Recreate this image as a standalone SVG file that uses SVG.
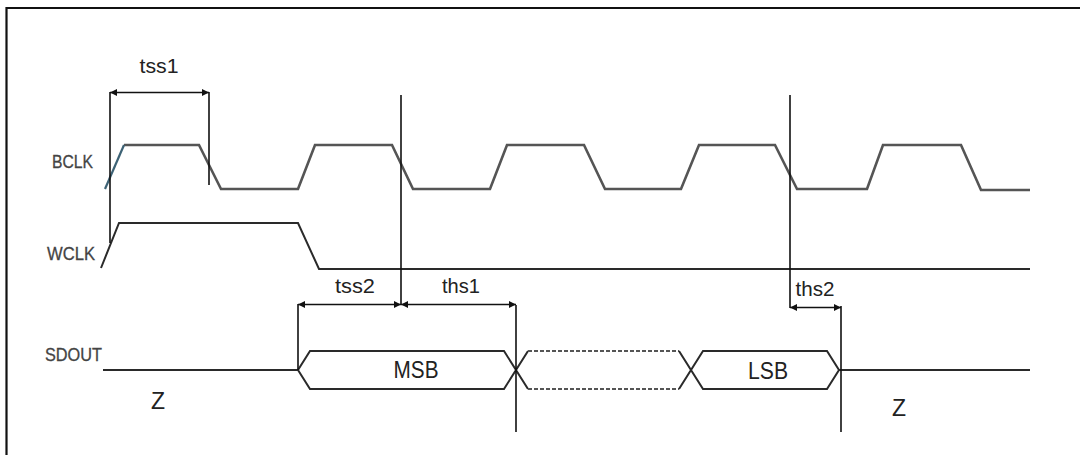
<svg xmlns="http://www.w3.org/2000/svg" width="1080" height="455" viewBox="0 0 1080 455">
<defs>
<style>
.wave{fill:none;stroke:#555;stroke-width:2.6;stroke-linejoin:miter}
.wdark{fill:none;stroke:#2a2a2a;stroke-width:2}
.ref{fill:none;stroke:#111;stroke-width:1.6}
.dim{fill:none;stroke:#111;stroke-width:1.6;marker-start:url(#ah);marker-end:url(#ah)}
.dash{fill:none;stroke:#555;stroke-width:2;stroke-dasharray:4 2}
.sig{font-family:"Liberation Sans",Arial,sans-serif;font-size:18px;fill:#444;stroke:#444;stroke-width:0.3}
.lbl{font-family:"Liberation Sans",Arial,sans-serif;font-size:21px;fill:#222;text-anchor:middle}
.big{font-family:"Liberation Sans",Arial,sans-serif;font-size:23px;fill:#222;text-anchor:middle}
</style>
<marker id="ah" viewBox="0 0 8 8" refX="8" refY="4" markerWidth="7" markerHeight="7" markerUnits="userSpaceOnUse" orient="auto-start-reverse">
<path d="M0,0 L8,4 L0,8 z" fill="#111"/>
</marker>
</defs>
<rect width="1080" height="455" fill="#fff"/>
<g id="frame"><path d="M6.5,460 V8 H1085" fill="none" stroke="#111" stroke-width="2.2"/></g>

<g id="bclk">
<text class="sig" x="52" y="168" textLength="41" lengthAdjust="spacingAndGlyphs">BCLK</text>
<path class="wave" d="M124,145 H199 L221,189 H298 L315,145 H392 L413,189 H490 L507,145 H584 L605,189 H681 L699,145 H775 L797,189 H867 L883,145 H961 L981,190 H1030"/>
<path d="M105,189 L124,145" fill="none" stroke="#3d6275" stroke-width="2.2"/>
</g>

<g id="wclk">
<text class="sig" x="47" y="260" textLength="48" lengthAdjust="spacingAndGlyphs">WCLK</text>
<path class="wdark" d="M101,268 L119,223 H298 L319,269 H1030"/>
</g>

<g id="sdout">
<text class="sig" x="45" y="361" textLength="57" lengthAdjust="spacingAndGlyphs">SDOUT</text>
<path class="wdark" d="M103,370 H298"/>
<path class="wdark" d="M298,370 L310,351 H504 L528,389 M298,370 L310,389 H504 L528,351"/>
<path class="dash" d="M528,351 H679 M528,389 H679"/>
<path class="wdark" d="M679,351 L703,389 H827 L839,370 L827,351 H703 L679,389"/>
<path class="wdark" d="M839,370 H1030"/>
<text class="big" x="416" y="378" textLength="45" lengthAdjust="spacingAndGlyphs">MSB</text>
<text class="big" x="768" y="379" textLength="40" lengthAdjust="spacingAndGlyphs">LSB</text>
<text class="big" x="158" y="409">Z</text>
<text class="big" x="899" y="416">Z</text>
</g>

<g id="connectors">
<path class="ref" d="M110,92 V243"/>
<path class="ref" d="M209,92 V185"/>
<path class="ref" d="M401,95 V305"/>
<path class="ref" d="M790,95 V308"/>
<path class="ref" d="M298,304 V370"/>
<path class="ref" d="M516,305 V432"/>
<path class="ref" d="M841,306 V432"/>
<path class="dim" d="M110,92.5 H209"/>
<path class="dim" d="M298,304.5 H401"/>
<path class="dim" d="M401,304.5 H516"/>
<path class="dim" d="M790,307.5 H841"/>
</g>

<g id="labels">
<text class="lbl" x="159" y="73" textLength="39" lengthAdjust="spacingAndGlyphs">tss1</text>
<text class="lbl" x="355" y="293" textLength="40" lengthAdjust="spacingAndGlyphs">tss2</text>
<text class="lbl" x="461" y="293" textLength="38" lengthAdjust="spacingAndGlyphs">ths1</text>
<text class="lbl" x="815" y="296" textLength="39" lengthAdjust="spacingAndGlyphs">ths2</text>
</g>
</svg>
